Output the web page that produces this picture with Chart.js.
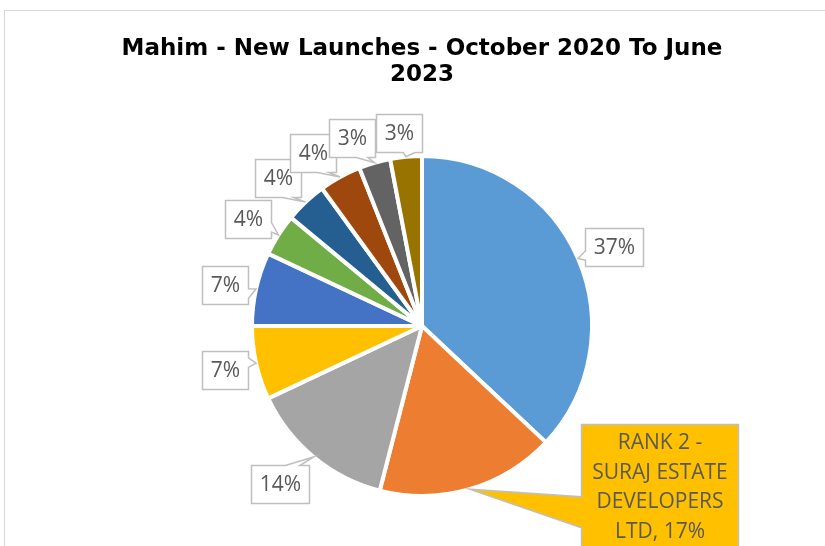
<!DOCTYPE html>
<html>
<head>
<meta charset="utf-8">
<title>Mahim - New Launches</title>
<script src="https://cdn.jsdelivr.net/npm/chart.js@4.4.0/dist/chart.umd.min.js"></script>
<style>
  html, body { margin: 0; padding: 0; background: #fff; }
  canvas { display: block; }
</style>
</head>
<body>
<canvas id="myChart" width="825" height="546"></canvas>
<script>
// ---- data
const chartTitle = ["Mahim - New Launches - October 2020 To June", "2023"];
const developers = [
    "RANK 1", "RANK 2 - SURAJ ESTATE DEVELOPERS LTD", "RANK 3", "RANK 4", "RANK 5",
    "RANK 6", "RANK 7", "RANK 8", "RANK 9", "RANK 10"
];
const share = [37, 17, 14, 7, 7, 4, 4, 4, 3, 3];
const highlighted = 1; // the slice whose label shows the developer name

// ---- look
const sliceColors = ["#5B9BD5", "#ED7D31", "#A5A5A5", "#FFC000", "#4472C4",
                     "#70AD47", "#255E91", "#9E480E", "#636363", "#997300"];
// where each callout box sits, relative to the outer middle of its slice
const labelOffsets = [[38, -12.5], [190.5, -1], [-35, 28.5], [-33.5, 7.5], [-33.5, -4],
                      [-32.5, -16.5], [-29, -26], [-28.5, -26], [-23, -26.5], [-7, -25.5]];
const labelFont = '21px "Open Sans"';

function labelLines(ctx, i) {
    if (i !== highlighted) return [share[i] + "%"];
    // wrap long label like the excel box does
    const words = (developers[i] + ", " + share[i] + "%").split(" ");
    const lines = [];
    let cur = "";
    words.forEach(w => {
        const test = cur ? cur + " " + w : w;
        if (cur && ctx.measureText(test).width > 145) {
            lines.push(cur);
            cur = w;
        } else {
            cur = test;
        }
    });
    lines.push(cur);
    return lines;
}

// rectangle with a wedge pointing at (tx, ty), same rule as excel wedgeRectCallout
function calloutPath(ctx, x0, y0, w, h, tx, ty) {
    const dx = tx - (x0 + w / 2);
    const dy = ty - (y0 + h / 2);
    const side = Math.abs(dx * h) > Math.abs(dy * w);
    const xs = dx > 0 ? [7, 10] : [2, 5];
    const ys = dy > 0 ? [7, 10] : [2, 5];
    const xa = x0 + w * xs[0] / 12, xb = x0 + w * xs[1] / 12;
    const ya = y0 + h * ys[0] / 12, yb = y0 + h * ys[1] / 12;
    ctx.beginPath();
    ctx.moveTo(x0, y0);
    if (!side && dy < 0) { ctx.lineTo(xa, y0); ctx.lineTo(tx, ty); ctx.lineTo(xb, y0); }
    ctx.lineTo(x0 + w, y0);
    if (side && dx > 0) { ctx.lineTo(x0 + w, ya); ctx.lineTo(tx, ty); ctx.lineTo(x0 + w, yb); }
    ctx.lineTo(x0 + w, y0 + h);
    if (!side && dy > 0) { ctx.lineTo(xb, y0 + h); ctx.lineTo(tx, ty); ctx.lineTo(xa, y0 + h); }
    ctx.lineTo(x0, y0 + h);
    if (side && dx < 0) { ctx.lineTo(x0, yb); ctx.lineTo(tx, ty); ctx.lineTo(x0, ya); }
    ctx.closePath();
}

const frame = {
    id: "frame",
    beforeDraw(chart) {
        const c = chart.ctx;
        c.save();
        c.fillStyle = "#fff";
        c.fillRect(0, 0, chart.width, chart.height);
        c.strokeStyle = "#d9d9d9";
        c.lineWidth = 1;
        c.strokeRect(4.5, 10.5, chart.width + 20, chart.height + 20);
        c.restore();
    }
};

const calloutLabels = {
    id: "calloutLabels",
    afterDatasetsDraw(chart) {
        const c = chart.ctx;
        const meta = chart.getDatasetMeta(0);
        c.save();
        c.font = labelFont;
        c.textAlign = "center";
        c.textBaseline = "middle";
        meta.data.forEach((arc, i) => {
            const p = arc.getProps(["x", "y", "startAngle", "endAngle", "outerRadius"], true);
            const mid = (p.startAngle + p.endAngle) / 2;
            const r = p.outerRadius - 2; // visible edge of the slice
            const tx = p.x + Math.cos(mid) * (r + 2);
            const ty = p.y + Math.sin(mid) * (r + 2);
            const ax = p.x + Math.cos(mid) * r;
            const ay = p.y + Math.sin(mid) * r;
            const lines = labelLines(c, i);
            const lh = 29.5;
            let w, h;
            if (lines.length > 1) {
                w = 157;
                h = lines.length * lh + 6;
            } else {
                w = Math.round(c.measureText(lines[0]).width) + 17;
                h = 38;
            }
            const cx = ax + labelOffsets[i][0];
            const cy = ay + labelOffsets[i][1];
            const x0 = Math.round(cx - w / 2) + 0.5;
            const y0 = Math.round(cy - h / 2) + 0.5;
            calloutPath(c, x0, y0, w, h, tx, ty);
            c.fillStyle = i === highlighted ? sliceColors[3] : "#fff";
            c.fill();
            c.strokeStyle = "#bfbfbf";
            c.lineWidth = 1.5;
            c.stroke();
            c.fillStyle = "#595959";
            lines.forEach((t, k) => {
                c.fillText(t, x0 + w / 2, y0 + h / 2 + (k - (lines.length - 1) / 2) * lh + 1);
            });
        });
        c.restore();
    }
};

const ctx = document.getElementById("myChart");
const chart = new Chart(ctx, {
    type: "pie",
    data: {
        labels: developers,
        datasets: [{
            data: share,
            backgroundColor: sliceColors,
            borderColor: "#fff",
            borderWidth: 4
        }]
    },
    options: {
        responsive: false,
        animation: false,
        events: [],
        layout: { padding: { left: 19, right: 0, top: 0, bottom: 48 } },
        plugins: {
            legend: { display: false },
            tooltip: { enabled: false },
            title: {
                display: true,
                text: chartTitle,
                color: "#000",
                font: { family: "DejaVu Sans", size: 23, weight: "bold", lineHeight: 26 / 23 },
                padding: { top: 36.5, bottom: 65.5 }
            }
        }
    },
    plugins: [frame, calloutLabels]
});
</script>
</body>
</html>
